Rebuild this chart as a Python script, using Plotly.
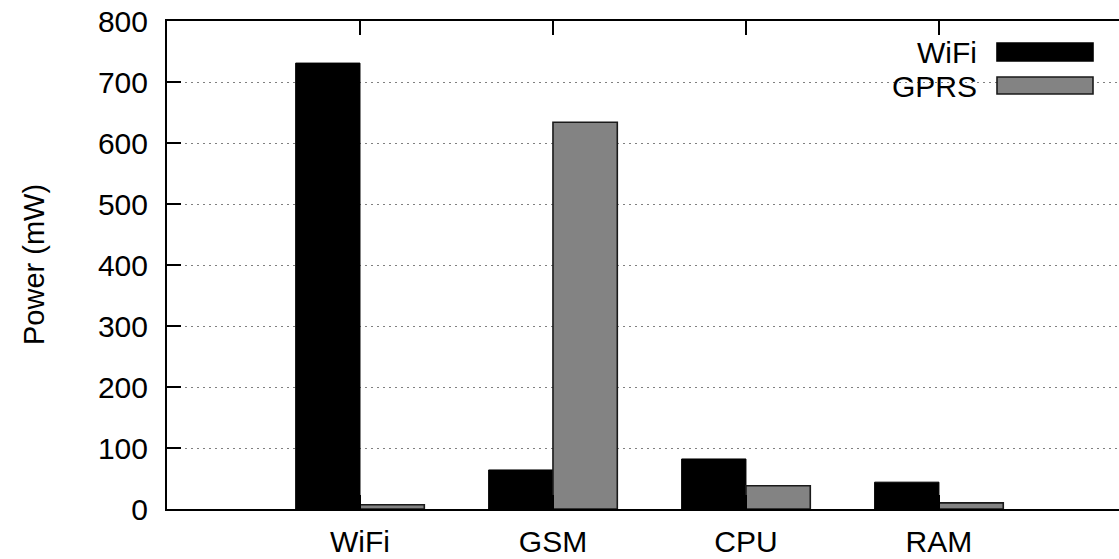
import plotly.graph_objects as go

# Power draw per component, measured over WiFi and GPRS links
categories = ["WiFi", "GSM", "CPU", "RAM"]
series_names = ["WiFi", "GPRS"]
wifi_power = [731, 64, 82, 44]
gprs_power = [7, 634, 38, 10]
y_ticks = [0, 100, 200, 300, 400, 500, 600, 700, 800]
y_title = "Power (mW)"

W, H = 1119, 559
M_L, M_R, M_T, M_B = 167, 0, 21, 50
FONT = "Liberation Sans, Arial, Helvetica, sans-serif"
FS = 30

fig = go.Figure()
fig.add_trace(go.Bar(
    x=categories, y=wifi_power, name=series_names[0],
    marker=dict(color="#000000", line=dict(color="#000000", width=1)),
    showlegend=False,
))
fig.add_trace(go.Bar(
    x=categories, y=gprs_power, name=series_names[1],
    marker=dict(color="#838383", line=dict(color="#1a1a1a", width=1.6)),
    showlegend=False,
))

plot_w = W - M_L - M_R
plot_h = H - M_T - M_B


def px_x(px):
    return (px - M_L) / plot_w


def px_y(py):
    return (H - M_B - py) / plot_h


# Hand-drawn key in the upper-right corner (swatch to the right of its label)
key_rows = [
    (series_names[0], "#000000", "#000000", 43, 61),
    (series_names[1], "#838383", "#1a1a1a", 77, 94),
]
for label, fill, edge, top, bottom in key_rows:
    fig.add_shape(
        type="rect", xref="paper", yref="paper",
        x0=px_x(997), x1=px_x(1093), y0=px_y(bottom), y1=px_y(top),
        fillcolor=fill, line=dict(color=edge, width=1.6), layer="above",
    )
    fig.add_annotation(
        xref="paper", yref="paper",
        x=px_x(979), y=px_y((top + bottom) / 2 + 1),
        text=label, showarrow=False, xanchor="right", yanchor="middle",
        font=dict(family=FONT, size=FS, color="#000000"),
    )

# Rotated y-axis title
fig.add_annotation(
    xref="paper", yref="paper",
    x=px_x(34), y=0.5, text=y_title, textangle=-90,
    showarrow=False, xanchor="center", yanchor="middle",
    font=dict(family=FONT, size=29, color="#000000"),
)

fig.update_layout(
    width=W, height=H,
    margin=dict(l=M_L, r=M_R, t=M_T, b=M_B, pad=0),
    paper_bgcolor="#ffffff", plot_bgcolor="#ffffff",
    barmode="group", bargap=1 / 3, bargroupgap=0,
    font=dict(family=FONT, size=FS, color="#000000"),
)
fig.update_xaxes(
    type="category", range=[-1, 3.933], automargin=False,
    showline=True, linecolor="#000000", linewidth=2, mirror="ticks",
    ticks="inside", ticklen=14, tickwidth=1.5, tickcolor="#000000",
    showgrid=False, zeroline=False,
    tickfont=dict(family=FONT, size=FS, color="#000000"),
    ticklabelstandoff=5,
)
fig.update_yaxes(
    range=[0, 800], tickvals=y_ticks, automargin=False,
    showline=True, linecolor="#000000", linewidth=2, mirror=False,
    ticks="inside", ticklen=14, tickwidth=1.5, tickcolor="#000000",
    showgrid=True, gridcolor="#808080", gridwidth=1.3, griddash="1.5px,4.5px",
    zeroline=False,
    tickfont=dict(family=FONT, size=FS, color="#000000"),
    ticklabelstandoff=11,
)

fig.write_html("out.html")
